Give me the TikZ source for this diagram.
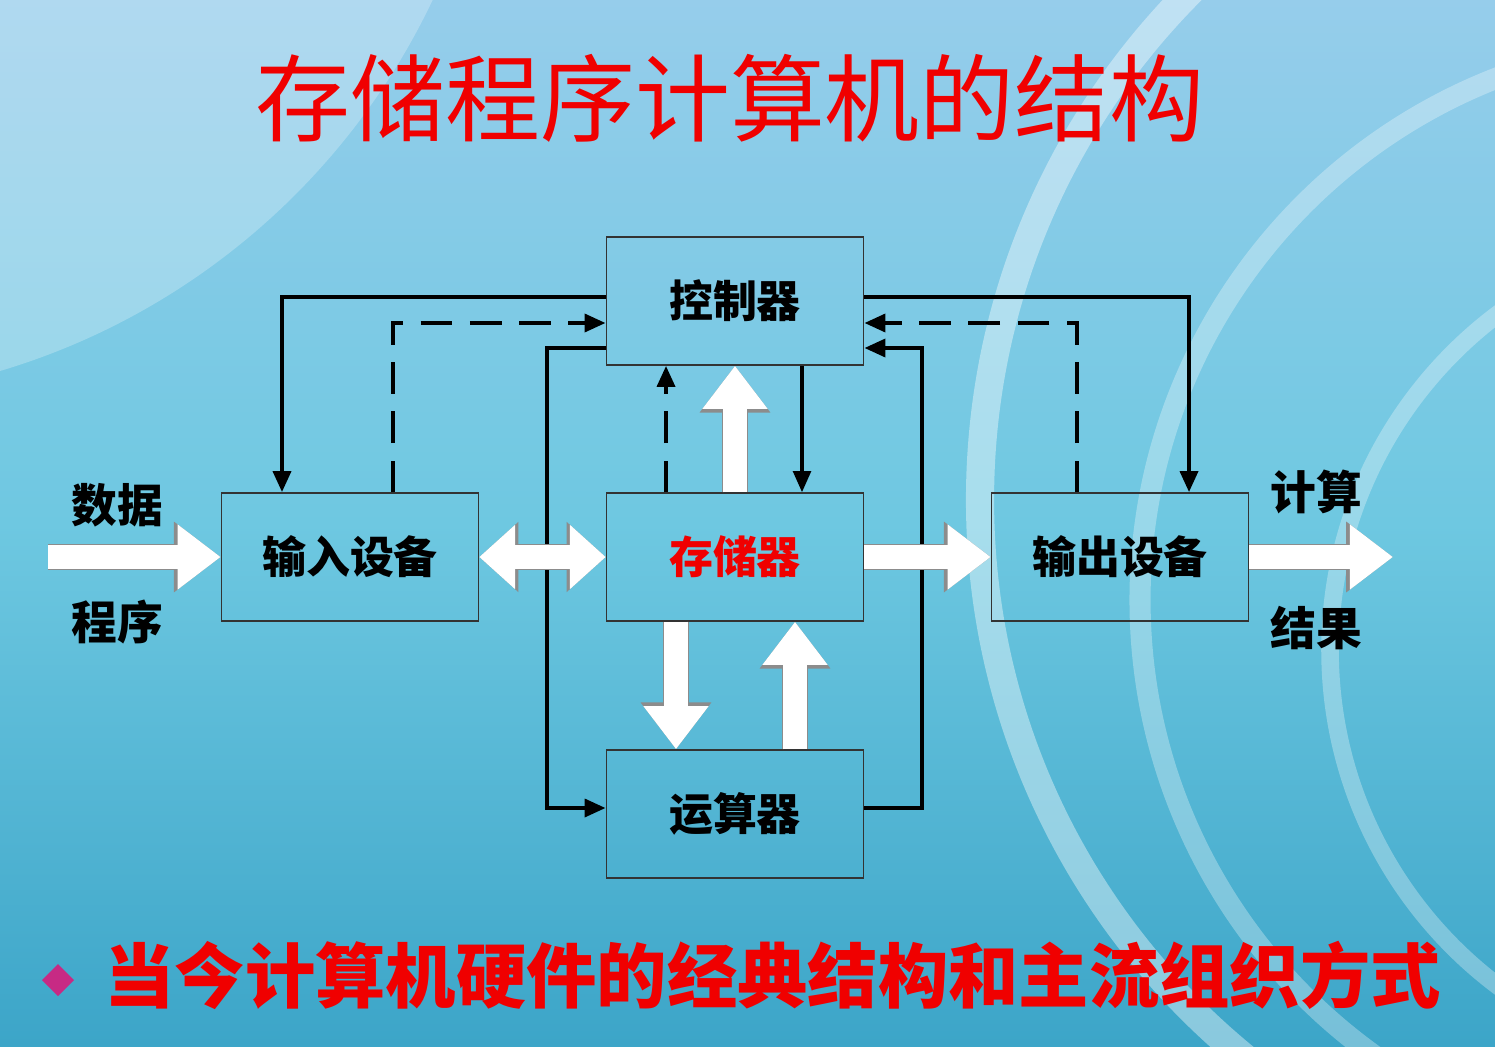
\documentclass[tikz,border=0pt]{standalone}
\usepackage{fontspec}
\newfontfamily\cjk{Noto Sans CJK SC}
\usetikzlibrary{arrows.meta,positioning}
\definecolor{bgtop}{RGB}{150,205,235}
\definecolor{bgmid}{RGB}{110,200,225}
\definecolor{bgbot}{RGB}{60,165,200}
\definecolor{titlered}{RGB}{240,0,0}
\begin{document}
\begin{tikzpicture}[x=0.01cm,y=-0.01cm,
    unitbox/.style={draw=black!80, thin, minimum width=2.57cm, minimum height=1.28cm, font=\cjk\bfseries\fontsize{12.5}{14}\selectfont},
    sidetext/.style={font=\cjk\bfseries\fontsize{13}{15}\selectfont},
    ctrlline/.style={-{Triangle[length=6pt,width=5pt]}, line width=1.3pt},
    ctrldash/.style={ctrlline, dash pattern=on 9pt off 5pt},
    fatarrow/.style={white, line width=6.8pt, -{Triangle[length=0pt 1.8, width=0pt 2.6]},
        preaction={draw=black!45, line width=7.4pt, -{Triangle[length=0pt 1.8, width=0pt 2.6]}}},
    fatboth/.style={white, line width=6.8pt, {Triangle[length=0pt 1.5, width=0pt 2.6]}-{Triangle[length=0pt 1.5, width=0pt 2.6]},
        preaction={draw=black!45, line width=7.4pt, {Triangle[length=0pt 1.5, width=0pt 2.6]}-{Triangle[length=0pt 1.5, width=0pt 2.6]}}}
]
    \useasboundingbox (0,0) rectangle (1495,1046);
    % background
    \begin{scope}
    \clip (0,0) rectangle (1495,1046);
    \shade[top color=bgtop, bottom color=bgbot, middle color=bgmid] (0,0) rectangle (1495,1046);
    \fill[white, opacity=0.25] (-200,-300) circle (700);
    \draw[white, opacity=0.4, line width=8pt] (1700,500) circle (720);
    \draw[white, opacity=0.3, line width=6pt] (1700,600) circle (560);
    \draw[white, opacity=0.3, line width=5pt] (1750,650) circle (420);
    \end{scope}

    \node[font=\cjk\fontsize{27}{30}\selectfont, text=titlered] (title) at (730,98) {存储程序计算机的结构};

    % units
    \node[unitbox] (ctrl) at (735,301) {控制器};
    \node[unitbox] (mem) at (735,557) {\textcolor{titlered}{存储器}};
    \node[unitbox] (alu) at (735,814) {运算器};
    \node[unitbox] (inp) at (350,557) {输入设备};
    \node[unitbox] (outp) at (1120,557) {输出设备};

    % control lines
    \draw[ctrlline] (ctrl.west |- 0,297) -| (inp.north -| 282,0);
    \draw[ctrldash] (inp.north -| 393,0) |- (ctrl.west |- 0,323);
    \draw[ctrlline] (ctrl.west |- 0,348) -| (547,600) |- (alu.west |- 0,808);
    \draw[ctrlline] (alu.east |- 0,808) -| (922,600) |- (ctrl.east |- 0,348);
    \draw[ctrldash] (outp.north -| 1077,0) |- (ctrl.east |- 0,323);
    \draw[ctrlline] (ctrl.east |- 0,297) -| (outp.north -| 1189,0);
    \draw[ctrldash] (mem.north -| 666,0) -- (ctrl.south -| 666,0);
    \draw[ctrlline, line width=1pt] (ctrl.south -| 802,0) -- (mem.north -| 802,0);

    % data paths
    \draw[fatarrow] (mem.north -| 735,0) -- (ctrl.south -| 735,0);
    \draw[fatarrow] (mem.south -| 676,0) -- (alu.north -| 676,0);
    \draw[fatarrow] (alu.north -| 795,0) -- (mem.south -| 795,0);
    \draw[fatboth] (inp.east) -- (mem.west);
    \draw[fatarrow] (mem.east) -- (outp.west);
    \coordinate (src) at (48,557);
    \coordinate (dst) at (1393,557);
    \draw[fatarrow] (src) -- (inp.west);
    \draw[fatarrow] (outp.east) -- (dst);

    \node[sidetext] (shuju) at (117,505) {数据};
    \node[sidetext] (chengxu) at (117,622) {程序};
    \node[sidetext] (jisuan) at (1316,492) {计算};
    \node[sidetext] (jieguo) at (1316,628) {结果};

    \fill[magenta!80!black] (58,964) -- (74,980) -- (58,996) -- (42,980) -- cycle;
    \node[font=\cjk\bfseries\fontsize{20}{24}\selectfont, text=titlered, anchor=west] (summary) at (92,975) {当今计算机硬件的经典结构和主流组织方式};
\end{tikzpicture}
\end{document}
